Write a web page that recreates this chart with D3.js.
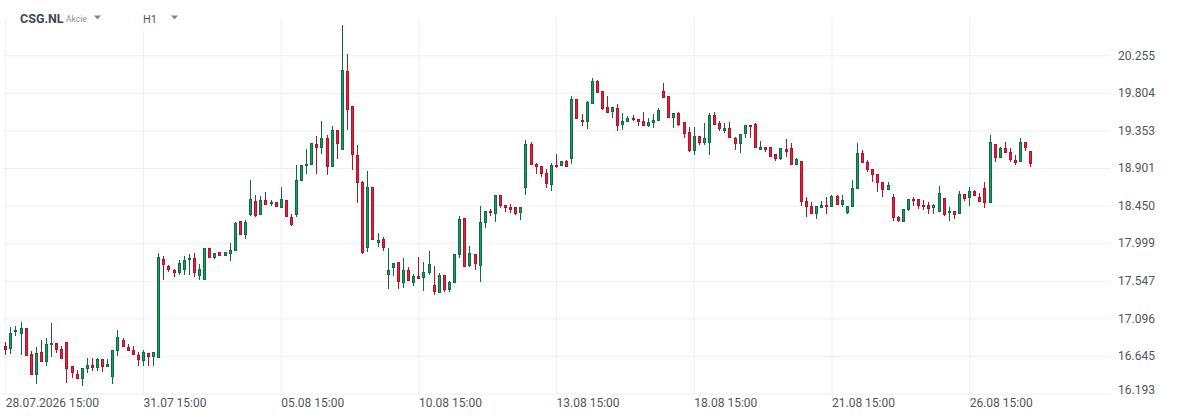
<!DOCTYPE html>
<html>
<head>
<meta charset="utf-8">
<script src="https://cdn.jsdelivr.net/npm/d3@7"></script>
<style>
body {margin: 0; background: #fff;}
svg {display: block; font-family: Roboto, "Noto Sans", sans-serif;}
</style>
</head>
<body>
<div id="main"></div>
<script>
// CSG.NL, H1 candles, 28.07.2026 15:00 .. 27.08 17:00
const open = [16.768,16.728,16.928,16.904,16.980,16.672,16.416,16.692,16.572,16.772,16.800,16.728,16.812,16.524,16.432,16.364,16.484,16.536,16.500,16.608,
16.508,16.388,16.700,16.840,16.752,16.720,16.656,16.588,16.680,16.632,16.616,17.812,17.728,17.680,17.636,17.676,17.792,17.824,17.600,17.560,
17.940,17.816,17.892,17.840,17.864,17.900,18.260,18.092,18.340,18.508,18.332,18.516,18.464,18.496,18.416,18.520,18.316,18.340,18.740,18.920,
18.932,19.188,19.136,19.260,18.908,19.356,19.116,20.064,19.644,19.056,18.732,17.936,18.672,18.000,18.048,17.612,17.700,17.772,17.520,17.680,
17.520,17.608,17.580,17.636,17.496,17.400,17.616,17.432,17.520,17.852,18.300,17.720,17.872,17.720,18.236,18.388,18.348,18.576,18.456,18.436,
18.432,18.356,18.660,19.192,18.948,18.920,18.840,18.692,18.936,18.920,18.988,19.008,19.732,19.480,19.452,19.668,19.948,19.824,19.636,19.568,
19.624,19.412,19.452,19.504,19.488,19.464,19.400,19.440,19.460,19.828,19.768,19.500,19.556,19.448,19.328,19.104,19.288,19.200,19.200,19.540,
19.444,19.348,19.380,19.260,19.188,19.308,19.416,19.432,19.112,19.152,19.152,19.068,19.012,19.128,19.140,18.932,18.984,18.504,18.444,18.348,
18.416,18.456,18.428,18.568,18.452,18.356,18.432,18.644,19.084,18.976,18.888,18.828,18.736,18.632,18.552,18.316,18.248,18.392,18.532,18.532,
18.460,18.460,18.416,18.368,18.540,18.356,18.388,18.348,18.592,18.536,18.628,18.556,18.660,18.476,19.188,19.020,19.140,19.096,18.996,18.972,
19.212,19.104]
const high = [16.812,16.992,17.000,17.052,16.984,16.700,16.752,16.836,16.856,17.044,16.800,16.760,16.812,16.524,16.472,16.500,16.620,16.620,16.620,16.608,
16.608,16.720,16.960,16.860,16.788,16.760,16.688,16.720,16.680,16.692,17.880,17.840,17.740,17.692,17.796,17.848,17.872,17.880,17.748,17.940,
17.940,17.880,17.892,17.892,18.000,18.256,18.268,18.280,18.760,18.580,18.568,18.616,18.512,18.496,18.672,18.520,18.348,18.932,18.936,19.132,
19.200,19.288,19.468,19.300,19.404,19.356,20.620,20.272,19.644,19.180,18.748,18.868,18.672,18.120,18.072,17.940,17.764,17.772,17.820,17.712,
17.632,17.836,17.776,17.908,17.728,17.640,17.616,17.548,17.872,18.320,18.300,17.960,17.872,18.440,18.384,18.412,18.576,18.576,18.456,18.464,
18.432,18.432,19.240,19.216,18.960,18.920,18.892,18.960,19.072,18.988,19.000,19.768,19.732,19.552,19.708,19.984,19.960,19.824,19.768,19.636,
19.672,19.564,19.520,19.540,19.488,19.576,19.500,19.552,19.620,19.920,19.768,19.560,19.568,19.448,19.392,19.392,19.288,19.440,19.556,19.568,
19.460,19.440,19.448,19.272,19.308,19.420,19.416,19.440,19.224,19.152,19.152,19.068,19.140,19.252,19.204,19.024,18.984,18.552,18.492,18.444,
18.504,18.552,18.576,18.576,18.576,18.444,18.760,19.196,19.120,18.996,18.888,18.828,18.736,18.736,18.592,18.328,18.408,18.532,18.548,18.532,
18.520,18.496,18.472,18.688,18.540,18.432,18.388,18.628,18.592,18.668,18.640,18.600,18.736,19.292,19.188,19.152,19.216,19.144,19.060,19.260,
19.212,19.104]
const low = [16.652,16.672,16.888,16.660,16.640,16.412,16.304,16.568,16.528,16.628,16.680,16.608,16.316,16.376,16.368,16.280,16.440,16.460,16.460,16.448,
16.508,16.304,16.640,16.748,16.700,16.652,16.528,16.528,16.520,16.528,16.616,17.560,17.648,17.596,17.620,17.620,17.620,17.588,17.552,17.552,
17.816,17.804,17.840,17.840,17.788,17.900,18.092,18.052,18.320,18.316,18.332,18.452,18.440,18.428,18.416,18.308,18.208,18.308,18.740,18.824,
18.932,18.824,19.072,18.812,18.908,19.004,19.116,19.352,18.872,18.480,17.868,17.896,18.032,17.948,17.900,17.444,17.600,17.448,17.460,17.544,
17.480,17.568,17.420,17.620,17.372,17.400,17.408,17.408,17.520,17.820,17.708,17.708,17.672,17.528,18.176,18.320,18.248,18.416,18.368,18.360,
18.332,18.272,18.572,18.932,18.824,18.788,18.656,18.620,18.896,18.920,18.908,18.952,19.484,19.400,19.372,19.668,19.800,19.600,19.560,19.496,
19.344,19.352,19.452,19.460,19.400,19.400,19.388,19.380,19.460,19.740,19.500,19.380,19.400,19.260,19.088,19.052,19.172,19.172,19.052,19.420,
19.348,19.316,19.256,19.120,19.080,19.256,19.260,19.136,19.112,19.096,19.028,18.980,19.000,19.028,18.932,18.932,18.440,18.308,18.348,18.288,
18.416,18.344,18.428,18.456,18.432,18.344,18.432,18.644,18.960,18.852,18.732,18.612,18.548,18.632,18.268,18.248,18.248,18.380,18.440,18.408,
18.400,18.348,18.348,18.368,18.320,18.264,18.288,18.348,18.508,18.440,18.560,18.488,18.416,18.476,18.968,19.020,19.080,18.972,18.940,18.972,
19.100,18.908]
const close = [16.720,16.920,16.960,16.980,16.648,16.412,16.680,16.568,16.788,16.804,16.712,16.608,16.484,16.440,16.368,16.500,16.536,16.496,16.608,16.508,
16.548,16.720,16.872,16.748,16.700,16.652,16.592,16.688,16.630,16.692,17.832,17.740,17.672,17.636,17.760,17.800,17.824,17.636,17.688,17.940,
17.816,17.880,17.840,17.892,17.920,18.244,18.092,18.256,18.528,18.324,18.516,18.460,18.496,18.428,18.528,18.308,18.220,18.756,18.936,18.952,
19.200,19.136,19.260,18.908,19.356,19.184,20.076,19.596,19.052,18.720,17.876,18.672,18.040,18.036,17.936,17.680,17.764,17.528,17.680,17.544,
17.604,17.572,17.652,17.752,17.408,17.616,17.432,17.532,17.872,18.292,17.716,17.880,17.752,18.252,18.384,18.356,18.576,18.440,18.416,18.400,
18.352,18.432,19.192,18.932,18.908,18.828,18.708,18.936,18.908,18.988,18.908,19.732,19.484,19.448,19.692,19.948,19.800,19.612,19.560,19.636,
19.400,19.468,19.504,19.476,19.452,19.400,19.456,19.480,19.596,19.748,19.500,19.560,19.412,19.308,19.100,19.288,19.200,19.260,19.540,19.420,
19.364,19.380,19.256,19.188,19.308,19.420,19.388,19.136,19.152,19.120,19.028,19.012,19.140,19.088,18.932,19.012,18.488,18.428,18.348,18.444,
18.456,18.428,18.568,18.456,18.516,18.444,18.660,19.084,18.960,18.876,18.812,18.720,18.632,18.696,18.296,18.260,18.408,18.532,18.500,18.440,
18.428,18.412,18.460,18.600,18.332,18.388,18.340,18.592,18.532,18.628,18.560,18.488,18.480,19.212,19.020,19.140,19.080,18.992,18.964,19.212,
19.140,18.944]

const tickIdx = [0, 27, 54, 81, 108, 135, 162, 189]
const tickLabels = ["28.07.2026 15:00", "31.07 15:00", "05.08 15:00", "10.08 15:00",
    "13.08 15:00", "18.08 15:00", "21.08 15:00", "26.08 15:00"]
const priceTicks = [16.193, 16.645, 17.096, 17.547, 17.999, 18.450, 18.901, 19.353, 19.804, 20.255]

function drawChart() {
    let svg = d3.select("#main").append("svg")
        .attr("width", 1178)
        .attr("height", 419)

    let scX = d3.scaleLinear()
        .domain([0, open.length - 1])
        .range([5.3, 5.3 + (open.length - 1) * 5.1])
    let scY = d3.scaleLinear()
        .domain([priceTicks[0], priceTicks[priceTicks.length - 1]])
        .range([393.5, 55.3])

    // horizontal grid + price labels
    let yAxis = d3.axisRight(scY)
        .tickValues(priceTicks)
        .tickFormat(d3.format(".3f"))
        .tickSize(-1107)
        .tickPadding(8)
    let gy = svg.append("g")
        .attr("transform", "translate(1110 0)")
        .call(yAxis)
        .attr("font-family", "Roboto")
        .attr("font-size", 12)
    gy.select(".domain").remove()
    gy.selectAll("line").attr("stroke", "#efefef")
    gy.selectAll("text").attr("fill", "#50565e")
    gy.selectAll(".tick").filter(d => d === priceTicks[0]).select("text").attr("y", -4)

    // vertical grid + time labels
    let xAxis = d3.axisBottom(scX)
        .tickValues(tickIdx)
        .tickFormat((d, i) => tickLabels[i])
        .tickSize(-377)
        .tickPadding(3)
    let gx = svg.append("g")
        .attr("transform", "translate(0 395)")
        .call(xAxis)
        .attr("font-family", "Roboto")
        .attr("font-size", 12)
    gx.select(".domain").remove()
    gx.selectAll("line").attr("stroke", "#efefef")
    gx.selectAll("text").attr("fill", "#50565e").attr("text-anchor", "start")

    // header
    let head = svg.append("g")
    head.append("rect").attr("x", 136).attr("y", 4).attr("width", 50).attr("height", 27).attr("fill", "#fff")
    head.append("text").attr("x", 20).attr("y", 22.5)
        .attr("font-size", 12.5).attr("font-weight", "bold").attr("fill", "#3e4650")
        .text("CSG.NL")
    head.append("text").attr("x", 66).attr("y", 22)
        .attr("font-size", 8.5).attr("fill", "#8a9099")
        .text("Akcie")
    head.append("text").attr("x", 143).attr("y", 22.5)
        .attr("font-size", 11).attr("fill", "#50565e")
        .text("H1")
    head.selectAll("path").data([94, 171]).enter()
        .append("path")
        .attr("d", d => `M${d} 15.5 L${d + 7} 15.5 L${d + 3.5} 19.5 Z`)
        .attr("fill", "#80868e")

    // candles
    let up = {fill: "#1c9c62", stroke: "#0e6b43"}
    let down = {fill: "#e5223a", stroke: "#b3132a"}
    let g = svg.append("g")
    g.selectAll("g").data(open).enter().append("g")
        .each(function(o, i) {
            let c = close[i]
            let col = c >= o ? up : down
            let cx = Math.round(scX(i))
            let sel = d3.select(this)
            sel.append("line")
                .attr("x1", cx + 0.5).attr("x2", cx + 0.5)
                .attr("y1", Math.round(scY(high[i])))
                .attr("y2", Math.round(scY(low[i])))
                .attr("stroke", col.stroke)
                .attr("stroke-width", 1)
            let top = Math.round(scY(Math.max(o, c)))
            let bot = Math.round(scY(Math.min(o, c)))
            sel.append("rect")
                .attr("x", cx - 0.5)
                .attr("y", top + 0.5)
                .attr("width", 2)
                .attr("height", Math.max(bot - top - 1, 1))
                .attr("fill", col.fill)
                .attr("stroke", col.stroke)
                .attr("stroke-width", 1)
        })
}

drawChart()
</script>
</body>
</html>
